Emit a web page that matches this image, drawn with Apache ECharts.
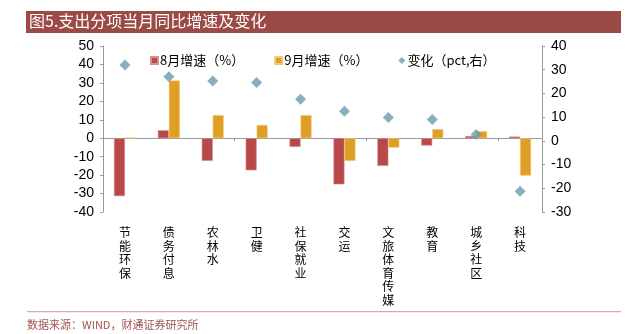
<!DOCTYPE html>
<html><head><meta charset="utf-8">
<script src="https://cdn.jsdelivr.net/npm/echarts@6/dist/echarts.min.js"></script>
<style>html,body{margin:0;padding:0;background:#fff}#c{width:626px;height:334px}</style>
</head><body><div id="c"></div>
<script>
var categories = ['节能环保','债务付息','农林水','卫健','社保就业','交运','文旅体育传媒','教育','城乡社区','科技'];
var augGrowth = [-31.4, 4.3, -12.3, -17.4, -4.7, -25.0, -15.0, -4.0, 1.2, 0.9];
var sepGrowth = [0.3, 31.3, 12.5, 7.2, 12.5, -12.3, -5.1, 4.9, 3.8, -20.3];
var change = [32.0, 27.0, 25.2, 24.6, 17.5, 12.5, 9.9, 9.0, 2.7, -21.2];
var seriesNames = ['8月增速（%）', '9月增速（%）', '变化（pct,右）'];
var titleText = '图5.支出分项当月同比增速及变化';
var sourceText = '数据来源：WIND，财通证券研究所';

var chart = echarts.init(document.getElementById('c'), null, {renderer: 'canvas'});
var numFont = {fontFamily: 'Liberation Sans, Arial, sans-serif', fontSize: 14, color: '#000'};
chart.setOption({
  animation: false,
  grid: {left: 103, right: 84, top: 46, bottom: 122, containLabel: false},
  legend: {
    left: 145, top: 49, itemGap: 30, itemWidth: 7, itemHeight: 7,
    textStyle: {fontFamily: 'Noto Sans CJK SC', fontSize: 13, color: '#000', padding: [0, 0, 0, -3]},
    data: [
      {name: seriesNames[0], icon: 'rect'},
      {name: seriesNames[1], icon: 'rect'},
      {name: seriesNames[2], icon: 'diamond'}
    ]
  },
  xAxis: [{
    type: 'category', data: categories,
    axisLine: {onZero: true, onZeroAxisIndex: 0, lineStyle: {color: '#9a9a9a', width: 1}},
    axisTick: {show: true, length: 3, lineStyle: {color: '#9a9a9a'}},
    axisLabel: {show: false}
  }, {
    type: 'category', data: categories, position: 'bottom',
    axisLine: {show: false, onZero: false}, axisTick: {show: false},
    axisLabel: {
      show: true, interval: 0, margin: 14,
      fontFamily: 'Noto Sans CJK SC', fontSize: 12, lineHeight: 13.5, color: '#000',
      verticalAlign: 'top',
      formatter: function (v) { return v.split('').join('\n'); }
    }
  }],
  yAxis: [{
    type: 'value', min: -40, max: 50, interval: 10, position: 'left',
    axisLine: {show: true, lineStyle: {color: '#9a9a9a'}},
    axisTick: {show: true, length: 3, lineStyle: {color: '#9a9a9a'}},
    splitLine: {show: false},
    axisLabel: Object.assign({margin: 9}, numFont)
  }, {
    type: 'value', min: -30, max: 40, interval: 10, position: 'right',
    axisLine: {show: true, lineStyle: {color: '#9a9a9a'}},
    axisTick: {show: true, length: 3, lineStyle: {color: '#9a9a9a'}},
    splitLine: {show: false},
    axisLabel: Object.assign({margin: 9}, numFont)
  }],
  series: [{
    name: seriesNames[0], type: 'bar', data: augGrowth, barWidth: 11, barGap: '0%',
    itemStyle: {color: '#b8484a', borderColor: '#d98f8f', borderWidth: 0.6}
  }, {
    name: seriesNames[1], type: 'bar', data: sepGrowth, barWidth: 11, barGap: '0%',
    itemStyle: {color: '#df9f25', borderColor: '#f0c878', borderWidth: 0.6}
  }, {
    name: seriesNames[2], type: 'scatter', yAxisIndex: 1, data: change,
    symbol: 'diamond', symbolSize: [11, 11],
    itemStyle: {color: '#6b9bae'}
  }],
  graphic: [
    {type: 'rect', shape: {x: 26, y: 11, width: 595, height: 22}, style: {fill: '#9c4a46'}, silent: true},
    {type: 'text', left: 29, top: 13, style: {text: titleText, fill: '#fff', font: '16px "Noto Sans CJK SC"'}, silent: true},
    {type: 'rect', shape: {x: 27, y: 311, width: 594, height: 1.2}, style: {fill: '#d8aaa6'}, silent: true},
    {type: 'text', left: 27, top: 319, style: {text: sourceText, fill: '#a05450', font: '11px "Noto Sans CJK SC"'}, silent: true}
  ]
});
</script>
</body></html>
